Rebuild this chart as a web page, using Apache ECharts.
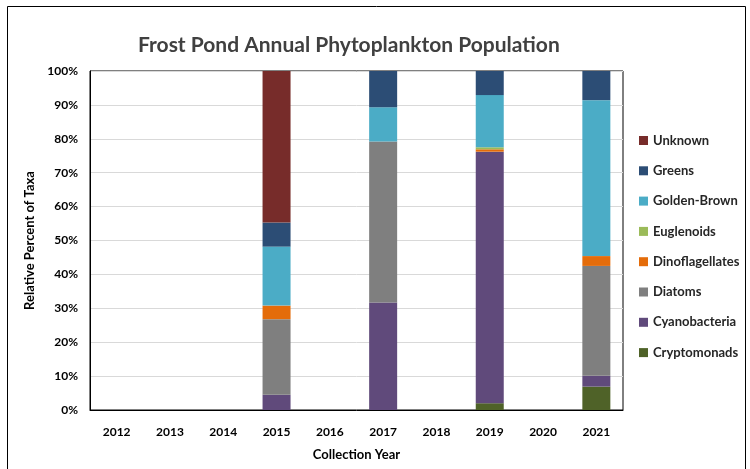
<!DOCTYPE html>
<html>
<head>
    <meta charset="utf-8">
    <title>Frost Pond Annual Phytoplankton Population</title>
    <script type="text/javascript" src="https://cdn.jsdelivr.net/npm/echarts@6/dist/echarts.min.js"></script>
    <style>
        html, body { margin: 0; padding: 0; background: #fff; }
    </style>
</head>
<body>
    <div id="main" style="width:750px; height:469px;"></div>
    <script type="text/javascript">

    // collection years
    var years = ['2012', '2013', '2014', '2015', '2016', '2017', '2018', '2019', '2020', '2021'];

    // percent of taxa per year
    var cryptomonads    = [0, 0, 0, 0,    0, 0,    0, 2.0,  0, 6.9];
    var cyanobacteria   = [0, 0, 0, 4.5,  0, 31.7, 0, 74.2, 0, 3.2];
    var diatoms         = [0, 0, 0, 22.3, 0, 47.5, 0, 0,    0, 32.4];
    var dinoflagellates = [0, 0, 0, 4.0,  0, 0,    0, 0.7,  0, 2.9];
    var euglenoids      = [0, 0, 0, 0,    0, 0,    0, 0.6,  0, 0];
    var goldenBrown     = [0, 0, 0, 17.4, 0, 10.1, 0, 15.4, 0, 46.0];
    var greens          = [0, 0, 0, 7.1,  0, 10.7, 0, 7.1,  0, 8.6];
    var unknown         = [0, 0, 0, 44.7, 0, 0,    0, 0,    0, 0];

    var myChart = echarts.init(document.getElementById('main'));
    var font = 'Lato, "Open Sans", sans-serif';

    function bar(name, data, color) {
        return {
            name: name,
            type: 'bar',
            stack: 'taxa',
            barWidth: 28,
            itemStyle: { color: color },
            data: data
        };
    }

    var option = {
        backgroundColor: '#fff',
        animation: false,
        textStyle: { fontFamily: font },
        title: {
            text: 'Frost Pond Annual Phytoplankton Population',
            left: 133,
            top: 30,
            textStyle: { fontSize: 21, fontWeight: 'bold', color: '#404040', fontFamily: font }
        },
        graphic: [{
            type: 'rect',
            shape: { x: 7.5, y: 6.5, width: 738, height: 470 },
            style: { fill: 'none', stroke: '#000', lineWidth: 1 }
        }],
        legend: {
            orient: 'vertical',
            left: 634,
            top: 129,
            itemWidth: 9,
            itemHeight: 9,
            itemGap: 17.3,
            icon: 'rect',
            textStyle: { fontSize: 13, fontWeight: 'bold', color: '#262626', fontFamily: font },
            data: ['Unknown', 'Greens', 'Golden-Brown', 'Euglenoids', 'Dinoflagellates', 'Diatoms', 'Cyanobacteria', 'Cryptomonads']
        },
        grid: {
            left: 90,
            top: 71,
            width: 533,
            height: 339,
            show: true,
            borderColor: '#000',
            borderWidth: 1
        },
        xAxis: {
            type: 'category',
            data: years,
            name: 'Collection Year',
            nameLocation: 'middle',
            nameGap: 38,
            nameTextStyle: { fontSize: 13, fontWeight: 'bold', color: '#000' },
            axisLine: { lineStyle: { color: '#000' } },
            axisTick: { show: false },
            axisLabel: { fontSize: 12, fontWeight: 'bold', color: '#000', margin: 16 }
        },
        yAxis: {
            type: 'value',
            min: 0,
            max: 100,
            interval: 10,
            name: 'Relative Percent of Taxa',
            nameLocation: 'middle',
            nameGap: 50,
            nameTextStyle: { fontSize: 13, fontWeight: 'bold', color: '#000' },
            axisLine: { show: true, lineStyle: { color: '#000' } },
            axisTick: { show: false },
            axisLabel: { fontSize: 12, fontWeight: 'bold', color: '#000', formatter: '{value}%', margin: 12 },
            splitLine: { lineStyle: { color: '#d9d9d9' } }
        },
        series: [
            bar('Cryptomonads', cryptomonads, '#4F6228'),
            bar('Cyanobacteria', cyanobacteria, '#604A7B'),
            bar('Diatoms', diatoms, '#7F7F7F'),
            bar('Dinoflagellates', dinoflagellates, '#E46C0A'),
            bar('Euglenoids', euglenoids, '#9BBB59'),
            bar('Golden-Brown', goldenBrown, '#4BACC6'),
            bar('Greens', greens, '#2C4D75'),
            bar('Unknown', unknown, '#772C2A')
        ]
    };

    myChart.setOption(option);
    </script>
</body>
</html>
